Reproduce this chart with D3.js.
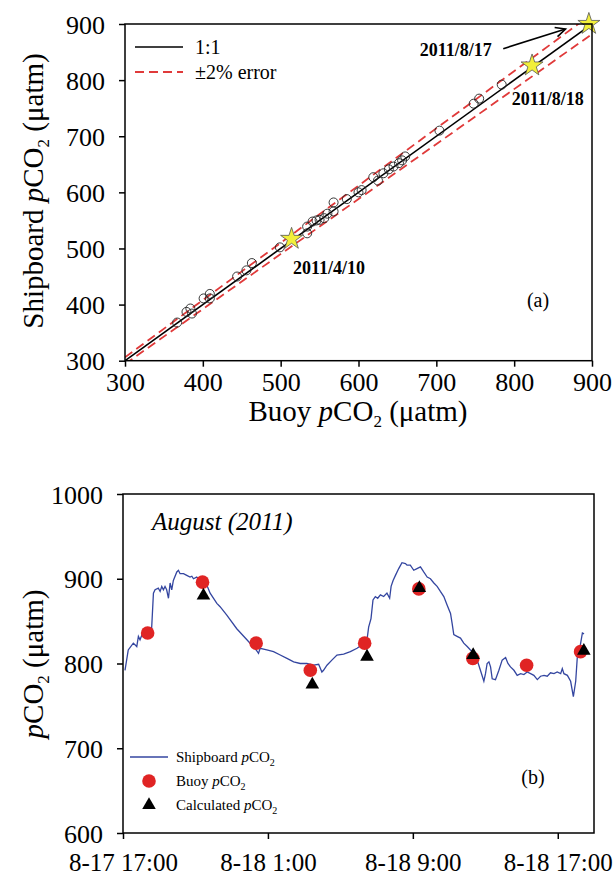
<!DOCTYPE html>
<html><head><meta charset="utf-8">
<script src="https://cdn.jsdelivr.net/npm/d3@7"></script>
<style>
html,body{margin:0;padding:0;background:#fff;}
svg text{font-family:"Liberation Serif","Times New Roman",serif !important;fill:#000;}
</style></head>
<body>
<svg id="c" width="616" height="875"></svg>
<script>
// ---------- Panel (a) data ----------
const buoyX  = [367,379,384,386,401,409,409,444,456,463,499,534,534,541,546,550,556,560,568,568,585,600,604,619,625,632,639,645,652,656,660,704,748,755,784];
const shipY  = [368,387,393,384,411,419,411,450,461,474,502,527,539,548,550,551,554,562,582,566,588,600,604,627,621,634,641,646,652,657,664,710,758,767,792];
const starX  = [514,823,896];
const starY  = [517,826,900];
const starLabels = ["2011/4/10","2011/8/18","2011/8/17"];
const ticksA = [300,400,500,600,700,800,900];

// ---------- Panel (b) data ----------
const shipHours = [0.11,0.29,0.57,0.76,0.85,0.94,1.12,1.31,1.58,1.68,1.77,1.95,2.05,2.14,2.23,2.32,2.41,2.51,2.60,2.69,2.78,2.97,3.06,3.15,3.34,3.52,3.70,3.80,3.89,4.07,4.26,4.39,4.62,4.81,5.18,5.36,5.73,6.28,6.84,7.35,7.48,7.57,7.94,8.31,8.68,9.05,9.42,9.78,10.15,10.52,10.80,10.98,11.07,11.26,11.53,11.81,12.18,12.55,12.92,13.19,13.34,13.47,13.56,13.69,13.80,13.93,14.06,14.21,14.39,14.57,14.72,14.80,14.91,15.04,15.22,15.40,15.59,15.68,15.86,16.05,16.23,16.42,16.60,16.79,16.97,17.16,17.34,17.52,17.71,17.89,18.08,18.17,18.26,18.44,18.63,18.81,19.00,19.18,19.37,19.55,19.73,19.92,20.01,20.10,20.20,20.29,20.38,20.56,20.75,20.93,21.12,21.25,21.39,21.58,21.76,21.95,22.13,22.31,22.50,22.68,22.87,23.05,23.24,23.42,23.60,23.79,23.97,24.16,24.25,24.34,24.53,24.71,24.86,24.99,25.08,25.23,25.36,25.45];
const shipValues = [792,816,824,820,832,828,838,836,841,883,887,889,885,891,887,891,887,877,895,887,898,908,910,906,906,904,902,903,900,902,898,896,893,883,871,867,857,841,828,816,812,818,816,814,810,806,802,800,800,798,799,790,792,798,804,810,811,814,818,822,824,828,843,853,875,879,877,881,879,883,877,891,898,904,912,919,918,916,916,910,912,914,908,902,900,895,891,885,879,869,859,847,834,832,830,824,820,816,812,804,792,779,788,800,802,796,782,781,792,804,807,800,796,792,786,788,787,790,788,786,781,785,786,785,789,788,790,788,794,788,786,779,761,779,808,820,836,835];
const buoyHours  = [1.36,4.39,7.35,10.34,13.34,16.33,19.31,22.28,25.26];
const buoyValues = [836,896,824,792,824,888,806,798,814];
const calcHours  = [4.44,10.45,13.47,16.36,19.33,25.44];
const calcValues = [880,775,808,889,810,815];
const ticksBY = [600,700,800,900,1000];
const ticksBX = [0,8,16,24];
const ticksBXLabels = ["8-17 17:00","8-18 1:00","8-18 9:00","8-18 17:00"];

const SERIF = '"Liberation Serif", "Times New Roman", serif';
const svg = d3.select("#c");

function styleAxis(g, fs){
  g.attr("font-family",null).attr("font-size",null);
  g.selectAll("path.domain").remove();
  g.selectAll("line").attr("stroke","#000").attr("stroke-width",1.5);
  g.selectAll("text").attr("font-family",SERIF).attr("font-size",fs).attr("fill","#000");
}

// ================= Panel (a) =================
const xa = d3.scaleLinear().domain([300,900]).range([125,592]);
const ya = d3.scaleLinear().domain([300,900]).range([360.7,24]);
const ga = svg.append("g");
ga.append("clipPath").attr("id","clipA").append("rect")
  .attr("x",125).attr("y",24).attr("width",467).attr("height",336.7);

const gxa = ga.append("g").attr("transform","translate(0,360.7)")
  .call(d3.axisBottom(xa).tickValues(ticksA).tickSize(6).tickSizeOuter(0).tickPadding(6));
const gya = ga.append("g").attr("transform","translate(125,0)")
  .call(d3.axisLeft(ya).tickValues(ticksA).tickSize(6).tickSizeOuter(0).tickPadding(14));
styleAxis(gxa,26); styleAxis(gya,26);
gya.selectAll("text").attr("dy","0.35em");

// lines
const lineA = d3.line().x(d=>xa(d[0])).y(d=>ya(d[1]));
const lg = ga.append("g").attr("clip-path","url(#clipA)");
lg.append("path").datum([[300,300*1.02],[900,900*1.02]]).attr("d",lineA)
  .attr("stroke","#e03a3a").attr("stroke-width",1.8).attr("stroke-dasharray","9,5").attr("fill","none");
lg.append("path").datum([[300,300*0.98],[900,900*0.98]]).attr("d",lineA)
  .attr("stroke","#e03a3a").attr("stroke-width",1.8).attr("stroke-dasharray","9,5").attr("fill","none");
lg.append("path").datum([[300,300],[900,900]]).attr("d",lineA)
  .attr("stroke","#000").attr("stroke-width",1.6).attr("fill","none");

// circles
ga.append("g").selectAll("circle").data(buoyX).join("circle")
  .attr("cx",(d)=>xa(d)).attr("cy",(d,i)=>ya(shipY[i])).attr("r",4.5)
  .attr("fill","none").attr("stroke","#222").attr("stroke-width",0.9);

// stars
ga.append("g").selectAll("path").data(starX).join("path")
  .attr("d",d3.symbol(d3.symbolStar,150))
  .attr("transform",(d,i)=>`translate(${xa(d)},${ya(starY[i])})`)
  .attr("fill","#f2ef3a").attr("stroke","#555").attr("stroke-width",0.8);

// frame
ga.append("rect").attr("x",125).attr("y",24).attr("width",467).attr("height",336.7)
  .attr("fill","none").attr("stroke","#000").attr("stroke-width",1.5);

// star labels
const lab = ga.append("g").attr("font-size",18).attr("font-weight","bold");
lab.append("text").attr("x",xa(562)).attr("y",ya(454)).attr("text-anchor","middle").text(starLabels[0]);
lab.append("text").attr("x",xa(843)).attr("y",ya(755)).attr("text-anchor","middle").text(starLabels[1]);
lab.append("text").attr("x",xa(725)).attr("y",ya(843)).attr("text-anchor","middle").text(starLabels[2]);
// arrow
const ax0=xa(786), ay0=ya(856), ax1=xa(866), ay1=ya(891);
ga.append("line").attr("x1",ax0).attr("y1",ay0).attr("x2",ax1).attr("y2",ay1).attr("stroke","#000").attr("stroke-width",1.6);
const ang=Math.atan2(ay1-ay0,ax1-ax0);
const hl=11;
ga.append("path").attr("d",`M${ax1-hl*Math.cos(ang-0.45)},${ay1-hl*Math.sin(ang-0.45)}L${ax1},${ay1}L${ax1-hl*Math.cos(ang+0.45)},${ay1-hl*Math.sin(ang+0.45)}`)
  .attr("fill","none").attr("stroke","#000").attr("stroke-width",1.6);

// legend (a)
const la = ga.append("g");
la.append("line").attr("x1",135).attr("x2",183).attr("y1",47).attr("y2",47).attr("stroke","#000").attr("stroke-width",1.6);
la.append("text").attr("x",195).attr("y",54).attr("font-size",20).text("1:1");
la.append("line").attr("x1",135).attr("x2",183).attr("y1",72).attr("y2",72).attr("stroke","#e03a3a").attr("stroke-width",1.8).attr("stroke-dasharray","9,5");
la.append("text").attr("x",195).attr("y",79).attr("font-size",20).text("±2% error");
ga.append("text").attr("x",538).attr("y",307).attr("text-anchor","middle").attr("font-size",20).text("(a)");

// axis titles (a)
function pco2(t, prefix, sub){
  if(prefix) t.append("tspan").text(prefix);
  t.append("tspan").attr("font-style","italic").text("p");
  t.append("tspan").text("CO");
  t.append("tspan").attr("dy",sub[0]).attr("font-size",sub[1]).text("2");
}
const tx = ga.append("text").attr("x",358).attr("y",421).attr("text-anchor","middle").attr("font-size",29);
pco2(tx,"Buoy ",[6,17]);
tx.append("tspan").attr("dy",-6).text(" (μatm)");
const ty = ga.append("text").attr("transform","translate(43,191) rotate(-90)").attr("text-anchor","middle").attr("font-size",29);
pco2(ty,"Shipboard ",[6,17]);
ty.append("tspan").attr("dy",-6).text(" (μatm)");

// ================= Panel (b) =================
const xb = d3.scaleLinear().domain([0,26]).range([123,594]);
const yb = d3.scaleLinear().domain([600,1000]).range([833,494]);
const gb = svg.append("g");

const gxb = gb.append("g").attr("transform","translate(0,833)")
  .call(d3.axisBottom(xb).tickValues(ticksBX).tickFormat((d,i)=>ticksBXLabels[i]).tickSize(6).tickSizeOuter(0));
const gyb = gb.append("g").attr("transform","translate(123,0)")
  .call(d3.axisLeft(yb).tickValues(ticksBY).tickFormat(d3.format("d")).tickSize(6).tickSizeOuter(0).tickPadding(14));
styleAxis(gxb,25); styleAxis(gyb,26);
gxb.selectAll("text").attr("y",38).attr("dy",null);
gyb.selectAll("text").attr("dy","0.35em");

// shipboard line
const lineB = d3.line().x((d,i)=>xb(shipHours[i])).y(d=>yb(d));
gb.append("path").datum(shipValues).attr("d",lineB)
  .attr("fill","none").attr("stroke","#3446a0").attr("stroke-width",1.3);
// buoy circles
gb.append("g").selectAll("circle").data(buoyValues).join("circle")
  .attr("cx",(d,i)=>xb(buoyHours[i])).attr("cy",d=>yb(d)).attr("r",6.8).attr("fill","#e02424");
// calculated triangles
gb.append("g").selectAll("path").data(calcValues).join("path")
  .attr("d",d3.symbol(d3.symbolTriangle,80))
  .attr("transform",(d,i)=>`translate(${xb(calcHours[i])},${yb(d)})`).attr("fill","#000");

// frame
gb.append("rect").attr("x",123).attr("y",494).attr("width",471).attr("height",339)
  .attr("fill","none").attr("stroke","#000").attr("stroke-width",1.5);

// title
gb.append("text").attr("x",152).attr("y",530).attr("font-size",25).attr("font-style","italic").text("August (2011)");
gb.append("text").attr("x",533).attr("y",784).attr("text-anchor","middle").attr("font-size",20).text("(b)");

// legend (b)
const lb = gb.append("g").attr("font-size",15);
lb.append("line").attr("x1",130).attr("x2",168).attr("y1",757).attr("y2",757).attr("stroke","#3446a0").attr("stroke-width",1.4);
lb.append("circle").attr("cx",149).attr("cy",781).attr("r",6.8).attr("fill","#e02424");
lb.append("path").attr("d",d3.symbol(d3.symbolTriangle,80)).attr("transform","translate(149,805)").attr("fill","#000");
function legText(y,label){
  const t = lb.append("text").attr("x",176).attr("y",y);
  pco2(t,label+" ",[4,10]);
}
legText(762,"Shipboard");
legText(786,"Buoy");
legText(810,"Calculated");

// y title (b)
const tyb = gb.append("text").attr("transform","translate(43,664) rotate(-90)").attr("text-anchor","middle").attr("font-size",29);
pco2(tyb,null,[6,17]);
tyb.append("tspan").attr("dy",-6).text(" (μatm)");
</script>
</body></html>
